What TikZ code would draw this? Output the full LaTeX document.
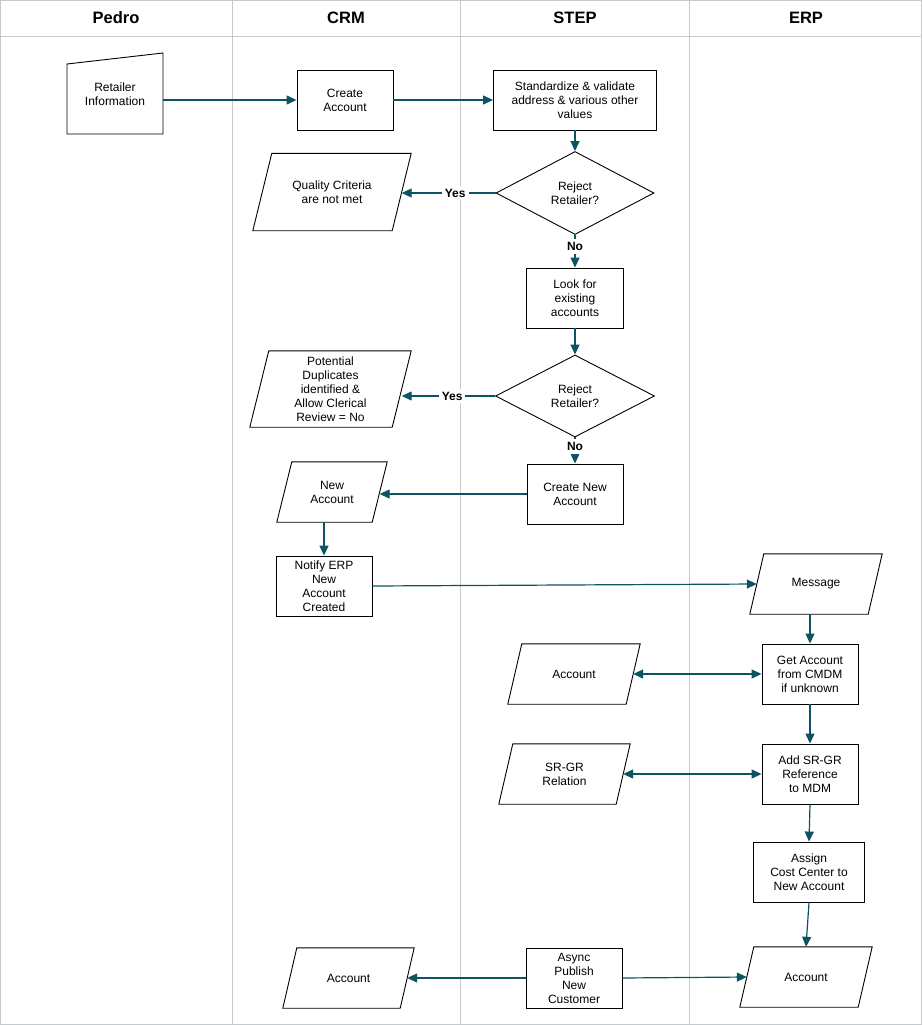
\documentclass[tikz,border=0pt]{standalone}
\usepackage{fontspec}
\setmainfont{Liberation Sans}
\usetikzlibrary{shapes.geometric,arrows.meta}
\definecolor{teal1}{RGB}{12,84,98}
\definecolor{lanegray}{RGB}{196,202,206}
\tikzset{
  txt/.style={font=\fontsize{12}{14}\selectfont, align=center, inner sep=1pt},
  proc/.style={txt, draw, line width=0.9pt, rectangle},
  io/.style={txt, rectangle, minimum height=60pt},
  dec/.style={txt, draw, line width=0.9pt, diamond, inner sep=0pt},
  flow/.style={draw=teal1, line width=1.2pt, -{Triangle[length=10pt,width=9pt]}},
  flow2/.style={draw=teal1, line width=1.2pt, {Triangle[length=10pt,width=9pt]}-{Triangle[length=10pt,width=9pt]}},
  lab/.style={font=\fontsize{12}{14}\selectfont\bfseries, fill=white, inner sep=3pt},
  lane/.style={draw=lanegray, line width=1pt},
  head/.style={font=\fontsize{16.5}{18}\selectfont\bfseries},
  ioline/.style={draw, line width=0.9pt}
}
\newcommand{\drawio}[2]{\draw[ioline] ([xshift=#2/2]#1.north west) -- ([xshift=#2/2]#1.north east) -- ([xshift=-#2/2]#1.south east) -- ([xshift=-#2/2]#1.south west) -- cycle;}
\begin{document}
\begin{tikzpicture}[x=1pt,y=-1pt]
\useasboundingbox (0,0) rectangle (922,1025);
% frame and lanes
\draw[lane] (0.5,0.5) rectangle (921.5,1024.5);
\draw[lane] (0,37) -- (922,37);
\draw[lane] (232.5,0) -- (232.5,1025);
\draw[lane] (460,0) -- (460,1025);
\draw[lane] (689,0) -- (689,1025);
\node[head] (h1) at (116,18) {Pedro};
\node[head] (h2) at (346,18) {CRM};
\node[head] (h3) at (575,18) {STEP};
\node[head] (h4) at (806,18) {ERP};

% manual input
\draw[line width=0.9pt] (67,64) -- (163,53) -- (163,134) -- (67,134) -- cycle;
\node[txt, minimum width=96pt, minimum height=70pt] (ret) at (115,94) {Retailer\\Information};

\node[proc, minimum width=96pt, minimum height=60pt] (ca) at (345,100) {Create\\Account};
\node[proc, minimum width=163pt, minimum height=60pt] (std) at (575,100) {Standardize \& validate\\address \& various other\\values};
\node[dec, minimum width=158pt, minimum height=83pt] (d1) at (575,193) {Reject\\Retailer?};
\node[io, minimum width=139pt, minimum height=77pt] (qc) at (332,192) {Quality Criteria\\are not met};
\drawio{qc}{19}
\node[proc, minimum width=97pt, minimum height=60pt] (look) at (575,298) {Look for\\existing\\accounts};
\node[dec, minimum width=159pt, minimum height=82pt] (d2) at (575,396) {Reject\\Retailer?};
\node[io, minimum width=142pt, minimum height=76pt] (pd) at (330.5,389) {Potential\\Duplicates\\identified \&\\Allow Clerical\\Review = No};
\drawio{pd}{19}
\node[proc, minimum width=96pt, minimum height=60pt] (cna) at (575,494) {Create New\\Account};
\node[io, minimum width=95pt] (na) at (332,492) {New\\Account};
\drawio{na}{15}
\node[proc, minimum width=96pt, minimum height=60pt] (notify) at (324,586) {Notify ERP\\New\\Account\\Created};
\node[io, minimum width=118pt] (msg) at (816,584) {Message};
\drawio{msg}{14}
\node[proc, minimum width=96pt, minimum height=60pt] (get) at (810,674) {Get Account\\from CMDM\\if unknown};
\node[io, minimum width=118pt] (acc1) at (574,674) {Account};
\drawio{acc1}{14}
\node[proc, minimum width=96pt, minimum height=60pt] (add) at (810,774) {Add SR-GR\\Reference\\to MDM};
\node[io, minimum width=117pt] (srgr) at (564.5,774) {SR-GR\\Relation};
\drawio{srgr}{14}
\node[proc, minimum width=111pt, minimum height=60pt] (assign) at (809,872) {Assign\\Cost Center to\\New Account};
\node[io, minimum width=118pt] (acc3) at (806,977) {Account};
\drawio{acc3}{14}
\node[proc, minimum width=96pt, minimum height=60pt] (async) at (574,978) {Async\\Publish\\New\\Customer};
\node[io, minimum width=117pt] (acc2) at (348.5,978) {Account};
\drawio{acc2}{14}

% connectors
\draw[flow] (ret.east |- ca.west) -- (ca.west);
\draw[flow] (ca.east) -- (std.west);
\draw[flow] (std.south) -- (d1.north);
\draw[flow] (d1.west) -- node[lab, pos=0.43] {Yes} (d1.west -| qc.east);
\draw[flow] (d1.south) -- node[lab, pos=0.35] {No} (look.north);
\draw[flow] (look.south) -- (d2.north);
\draw[flow] (d2.west) -- node[lab, pos=0.46] {Yes} (d2.west -| pd.east);
\draw[flow] (d2.south) -- node[lab, pos=0.35] {No} (cna.north);
\draw[flow] (cna.west) -- (cna.west -| na.east);
\draw[flow] (na.south -| notify.north) -- (notify.north);
\draw[flow] (notify.east) -- (msg.west);
\draw[flow] (msg.south -| get.north) -- (get.north);
\draw[flow2] (acc1.east) -- (get.west);
\draw[flow] (get.south) -- (add.north);
\draw[flow2] (srgr.east) -- (add.west);
\draw[flow] (add.south) -- (assign.north);
\draw[flow] (assign.south) -- (acc3.north);
\draw[flow] (async.west) -- (acc2.east);
\draw[flow] (async.east) -- (acc3.west);
\end{tikzpicture}
\end{document}
